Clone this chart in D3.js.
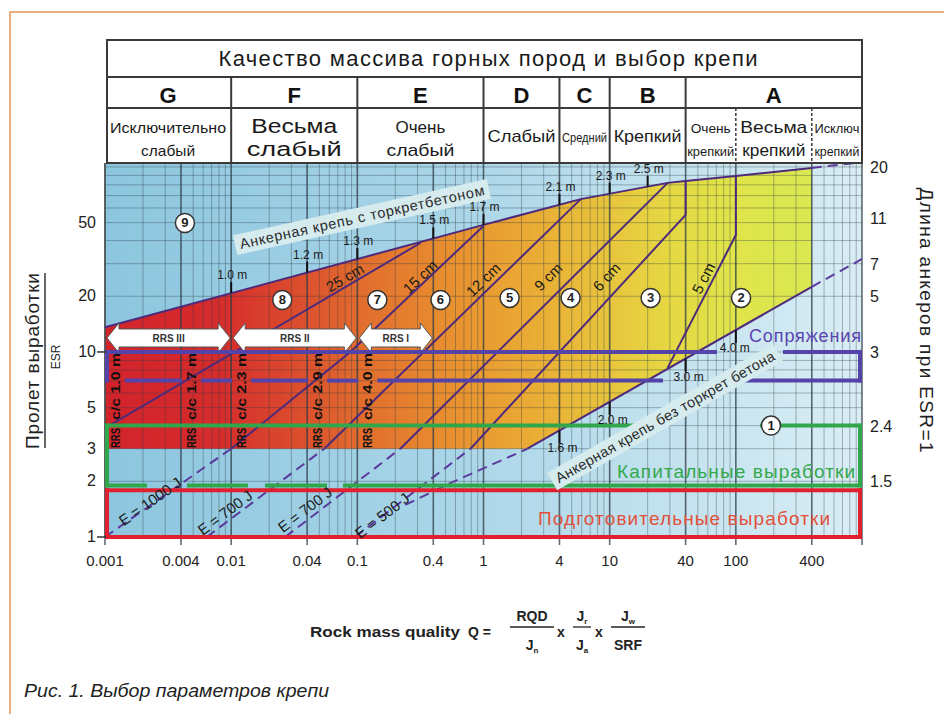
<!DOCTYPE html>
<html lang="ru">
<head>
  <meta charset="UTF-8">
  <title>Выбор параметров крепи</title>
  <script src="https://d3js.org/d3.v7.min.js"></script>
</head>
<body style="margin:0;background:#fff">

  <div id="chart"></div>

  <style>
    svg text { font-family: "Liberation Sans", Arial, sans-serif; }
  </style>

  <script type="text/javascript">

  // ---------- values ----------
  var qTicks = [0.001, 0.004, 0.01, 0.04, 0.1, 0.4, 1, 4, 10, 40, 100, 400];
  var qTickLabels = ["0.001", "0.004", "0.01", "0.04", "0.1", "0.4", "1", "4", "10", "40", "100", "400"];
  var spanTicks = [1, 2, 3, 5, 10, 20, 50];
  var boltTicks = [100, 53, 30, 20, 10, 4, 2];          // span/ESR where the right labels sit
  var boltTickLabels = ["20", "11", "7", "5", "3", "2.4", "1.5"];

  var rockClasses = ["G", "F", "E", "D", "C", "B", "A"];
  var classEdges = [0.001, 0.01, 0.1, 1, 4, 10, 40, 1000];
  var qualityNames = [["Исключительно", "слабый"], ["Весьма", "слабый"], ["Очень", "слабый"], ["Слабый"],
                      ["Средний"], ["Крепкий"], ["Очень", "крепкий"], ["Весьма", "крепкий"], ["Исключ", "крепкий"]];
  var qualityEdges = [0.001, 0.01, 0.1, 1, 4, 10, 40, 100, 400, 1000];

  // support boundaries, [Q, span/ESR]
  var shotcreteLimit = [[0.001, 13.6], [1, 48.6], [5.9, 67], [28.8, 82], [40, 84], [100, 89.4], [400, 98.8]];
  var shotcreteLimitExt = [[400, 98.8], [1000, 106]];
  var boltLimit = [[2.23, 3], [400, 22.5]];
  var boltLimitLow = [[0.24, 1.49], [0.55, 1.96], [2.23, 3]];
  var boltLimitHigh = [[400, 22.5], [1000, 31.8]];

  var thick25 = [[0.001, 3.88], [0.316, 38.8]];
  var thick15 = [[0.01, 3], [0.088, 10], [1, 48]];
  var thick12 = [[0.0547, 3], [5.9, 67]];
  var thick9 = [[0.219, 3], [28.8, 82]];
  var thick6 = [[0.788, 3], [40, 55], [40, 84]];
  var thick5 = [[28.8, 8.2], [100, 42.9], [100, 89.4]];

  var e1000 = [[0.001, 1], [0.01, 3]];
  var e700a = [[0.0064, 1], [0.0547, 3]];
  var e700b = [[0.0268, 1], [0.219, 3]];
  var e500 = [[0.096, 1], [0.788, 3]];

  var thickLabels = [["25 cm", 0.08, 25.1], ["15 cm", 0.316, 25.4], ["12 cm", 1.0, 24.5],
                     ["9 cm", 3.27, 25.4], ["6 cm", 9.5, 25.4], ["5 cm", 55.7, 25]];
  var energyLabels = [["E = 1000 J", 0.00228, 1.55], ["E = 700 J", 0.00896, 1.35],
                      ["E = 700 J", 0.0386, 1.40], ["E = 500 J", 0.158, 1.30]];

  var upperBolts = [[0.01, "1.0 m"], [0.04, "1.2 m"], [0.1, "1.3 m"], [0.4, "1.5 m"], [1, "1.7 m"],
                    [4, "2.1 m"], [10, "2.3 m"], [20, "2.5 m"]];
  var lowerBolts = [[4, "1.6 m"], [10, "2.0 m"], [40, "3.0 m"], [100, "4.0 m"]];

  var regionMarks = [["1", 190, 4], ["2", 110, 19.6], ["3", 21.1, 19.6], ["4", 4.9, 19.6], ["5", 1.61, 19.6],
                     ["6", 0.456, 19.1], ["7", 0.144, 19.1], ["8", 0.0254, 19.1], ["9", 0.0043, 49.8]];

  var rrsBands = [["RRS III", 0.001, 0.01], ["RRS II", 0.01, 0.1], ["RRS I", 0.1, 0.4]];
  var rrsQ = [0.001, 0.004, 0.01, 0.04, 0.1];
  var rrsText = ["c/c 1.0 m", "c/c 1.7 m", "c/c 2.3 m", "c/c 2.9 m", "c/c 4.0 m"];

  var tunnelBoxes = [["Сопряжения", 10, 7], ["Капитальные выработки", 4, 1.9], ["Подготовительные выработки", 1.79, 1]];

  // ---------- setup ----------
  var w = 944, h = 714;
  var svg = d3.select('#chart').append('svg').attr('width', w).attr('height', h);

  var x = d3.scaleLog().domain([0.001, 1000]).range([105, 862]);
  var y = d3.scaleLog().domain([1, 105]).range([537, 163]);
  var line = d3.line().x(d => x(d[0])).y(d => y(d[1]));

  var purple = '#4d2a7c';

  function yAt(pts, q) {
    for (var i = 0; i < pts.length - 1; i++) {
      var a = pts[i], b = pts[i + 1];
      if (a[0] === b[0]) continue;
      if (q >= Math.min(a[0], b[0]) && q <= Math.max(a[0], b[0])) {
        var t = Math.log(q / a[0]) / Math.log(b[0] / a[0]);
        return Math.exp(Math.log(a[1]) + t * Math.log(b[1] / a[1]));
      }
    }
    return null;
  }
  function angleAt(pts, q) {
    for (var i = 0; i < pts.length - 1; i++) {
      var a = pts[i], b = pts[i + 1];
      if (a[0] === b[0]) continue;
      if (q >= Math.min(a[0], b[0]) && q <= Math.max(a[0], b[0])) {
        if (a[0] > b[0]) { var c = a; a = b; b = c; }
        return Math.atan2(y(b[1]) - y(a[1]), x(b[0]) - x(a[0])) * 180 / Math.PI;
      }
    }
    return 0;
  }

  // frame of the page
  svg.append('rect').attr('x', 10).attr('y', 12).attr('width', 960).attr('height', 720)
    .attr('fill', 'none').attr('stroke', '#e29452').attr('stroke-width', 1.5);

  var defs = svg.append('defs');
  var bgGrad = defs.append('linearGradient').attr('id', 'bgGrad').attr('gradientUnits', 'userSpaceOnUse')
    .attr('x1', x(0.001)).attr('x2', x(1000)).attr('y1', 0).attr('y2', 0);
  [[0, '#8cc6de'], [0.45, '#a9d5e8'], [1, '#d9edf4']].forEach(s =>
    bgGrad.append('stop').attr('offset', s[0]).attr('stop-color', s[1]));

  var supGrad = defs.append('linearGradient').attr('id', 'supGrad').attr('gradientUnits', 'userSpaceOnUse')
    .attr('x1', x(0.001)).attr('x2', x(400)).attr('y1', 0).attr('y2', 0);
  [[0.001, '#d2232b'], [0.008, '#d52c2c'], [0.03, '#db4a2d'], [0.1, '#e16b2e'], [0.5, '#e88e2f'],
   [2, '#eaa834'], [8, '#e8c13b'], [30, '#e5d843'], [100, '#e0e44a'], [400, '#dae852']].forEach(s =>
    supGrad.append('stop').attr('offset', (x(s[0]) - x(0.001)) / (x(400) - x(0.001))).attr('stop-color', s[1]));

  // plot background
  svg.append('rect').attr('x', x(0.001)).attr('y', y(105))
    .attr('width', x(1000) - x(0.001)).attr('height', y(1) - y(105)).attr('fill', 'url(#bgGrad)');

  // coloured support area
  var area = shotcreteLimit.concat([[400, 22.5], boltLimit[0], [0.001, 3]]);
  svg.append('path').attr('d', line(area) + 'Z').attr('fill', 'url(#supGrad)');

  // grid
  var gridQ = [];
  for (var d = -3; d <= 2; d++) for (var m = 1; m <= 9; m++) gridQ.push([m * Math.pow(10, d), m === 1 || m === 4]);
  gridQ.push([1000, true]);
  var gridS = [];
  for (var e = 0; e <= 2; e++) for (var n = 1; n <= 9; n++) if (n * Math.pow(10, e) < 105) gridS.push(n * Math.pow(10, e));

  var grid = svg.append('g');
  grid.selectAll('line.h').data(gridS).enter().append('line')
    .attr('x1', x(0.001)).attr('x2', x(1000)).attr('y1', d => y(d)).attr('y2', d => y(d))
    .attr('stroke', '#2c3b46').attr('stroke-opacity', 0.45).attr('stroke-width', 0.8);
  grid.selectAll('line.v').data(gridQ).enter().append('line')
    .attr('x1', d => x(d[0])).attr('x2', d => x(d[0])).attr('y1', y(105)).attr('y2', d => d[1] ? 545 : y(1))
    .attr('stroke', '#2c3b46')
    .attr('stroke-opacity', d => d[1] ? 0.75 : 0.45)
    .attr('stroke-width', d => d[1] ? 1.6 : 0.8);

  // left axis line
  svg.append('line').attr('x1', x(0.001)).attr('x2', x(0.001)).attr('y1', y(105)).attr('y2', y(1))
    .attr('stroke', '#555').attr('stroke-width', 1.5);

  // support lines
  var solid = [thick25, thick15, thick12, thick9, thick6, thick5, shotcreteLimit, boltLimit];
  svg.append('g').selectAll('path').data(solid).enter().append('path')
    .attr('d', line).attr('fill', 'none').attr('stroke', purple).attr('stroke-width', 2);
  var dashed = [e1000, e700a, e700b, e500, boltLimitLow, boltLimitHigh, shotcreteLimitExt];
  svg.append('g').selectAll('path').data(dashed).enter().append('path')
    .attr('d', line).attr('fill', 'none').attr('stroke', '#5b3a9e').attr('stroke-width', 2)
    .attr('stroke-dasharray', '10,6');

  // RRS arrows
  var yArrow = y(11.9);
  rrsBands.forEach(function (b) {
    var x0 = x(b[1]) + 2, x1 = x(b[2]) - 1, hb = 9, hh = 15, hl = 12;
    var p = [[x0, yArrow], [x0 + hl, yArrow - hh], [x0 + hl, yArrow - hb], [x1 - hl, yArrow - hb], [x1 - hl, yArrow - hh],
             [x1, yArrow], [x1 - hl, yArrow + hh], [x1 - hl, yArrow + hb], [x0 + hl, yArrow + hb], [x0 + hl, yArrow + hh]];
    svg.append('path').attr('d', 'M' + p.join('L') + 'Z').attr('fill', '#fff')
      .attr('stroke', '#555').attr('stroke-width', 1);
    svg.append('text').attr('x', (x0 + x1) / 2).attr('y', yArrow + 4).attr('text-anchor', 'middle')
      .attr('font-size', 10).attr('font-weight', 'bold').attr('fill', '#333').text(b[0]);
  });

  // tunnel category boxes, with gaps where text crosses
  function hSeg(g, yy, xa, xb, gaps, color) {
    var pos = xa;
    gaps.concat([[xb, xb]]).forEach(function (gp) {
      g.append('line').attr('x1', pos).attr('x2', gp[0]).attr('y1', yy).attr('y2', yy)
        .attr('stroke', color).attr('stroke-width', 4);
      pos = gp[1];
    });
  }
  var boxColors = ['#5443a8', '#31a64a', '#e0202e'];
  var rrsGaps = rrsQ.map(q => [x(q) + 1, x(q) + 20]);
  var boxGaps = [[[[717, 783]], rrsGaps.concat([[663, 743]])],
                 [[[663, 760]], [[147, 187], [248, 265], [327, 343]]],
                 [[], []]];
  var boxes = svg.append('g');
  tunnelBoxes.forEach(function (b, i) {
    var yt = y(b[1]), yb = y(b[2]);
    hSeg(boxes, yt, 105, 862, boxGaps[i][0], boxColors[i]);
    hSeg(boxes, yb, 105, 862, boxGaps[i][1], boxColors[i]);
    [107, 860].forEach(xx => boxes.append('line').attr('x1', xx).attr('x2', xx)
      .attr('y1', yt - 2).attr('y2', yb + 2).attr('stroke', boxColors[i]).attr('stroke-width', 4));
  });
  svg.append('text').attr('x', 861).attr('y', 342).attr('text-anchor', 'end').attr('font-size', 18)
    .attr('fill', '#5a44b0').attr('textLength', 112).text(tunnelBoxes[0][0]);
  svg.append('text').attr('x', 855).attr('y', 478).attr('text-anchor', 'end').attr('font-size', 19)
    .attr('fill', '#34a84c').attr('textLength', 238).text(tunnelBoxes[1][0]);
  svg.append('text').attr('x', 830).attr('y', 525).attr('text-anchor', 'end').attr('font-size', 19)
    .attr('fill', '#e2503c').attr('textLength', 292).text(tunnelBoxes[2][0]);

  // RRS spacing columns
  rrsQ.forEach(function (q, i) {
    var xx = x(q) + 15;
    svg.append('text').attr('transform', 'translate(' + xx + ',448) rotate(-90)')
      .attr('font-size', 12).attr('font-weight', 'bold').attr('fill', '#111')
      .attr('textLength', 20).attr('lengthAdjust', 'spacingAndGlyphs').text('RRS');
    svg.append('text').attr('transform', 'translate(' + xx + ',420) rotate(-90)')
      .attr('font-size', 12).attr('font-weight', 'bold').attr('fill', '#111')
      .attr('textLength', 67).attr('lengthAdjust', 'spacingAndGlyphs').text(rrsText[i]);
  });

  // long labels on light bands
  function band(cx, cy, ang, len, txt) {
    var g = svg.append('g').attr('transform', 'translate(' + cx + ',' + cy + ') rotate(' + ang + ')');
    g.append('rect').attr('x', -len / 2 - 5).attr('y', -10).attr('width', len + 10).attr('height', 20)
      .attr('fill', '#d6ebee');
    g.append('text').attr('text-anchor', 'middle').attr('y', 5).attr('font-size', 14.5).attr('fill', '#2a2a2a')
      .attr('textLength', len).text(txt);
  }
  band(362, 217, -12.5, 250, 'Анкерная крепь с торкретбетоном');
  band(665, 417, -29.8, 250, 'Анкерная крепь без торкрет бетона');

  // thickness and energy labels
  thickLabels.forEach(function (t, i) {
    var ln = [thick25, thick15, thick12, thick9, thick6, thick5][i];
    svg.append('text').attr('transform', 'translate(' + x(t[1]) + ',' + y(t[2]) + ') rotate(' + angleAt(ln, t[1]) + ')')
      .attr('text-anchor', 'middle').attr('dy', 5).attr('font-size', 15).attr('fill', '#1a1a1a').text(t[0]);
  });
  energyLabels.forEach(function (t, i) {
    var ln = [e1000, e700a, e700b, e500][i];
    svg.append('text').attr('transform', 'translate(' + x(t[1]) + ',' + y(t[2]) + ') rotate(' + angleAt(ln, x.invert(x(t[1]) + 15)) + ')')
      .attr('text-anchor', 'middle').attr('dy', 5).attr('font-size', 15).attr('fill', '#1a1a1a').text(t[0]);
  });

  // bolt length marks
  upperBolts.forEach(function (b) {
    var yy = y(yAt(shotcreteLimit, b[0]));
    svg.append('line').attr('x1', x(b[0])).attr('x2', x(b[0])).attr('y1', yy).attr('y2', yy - 11)
      .attr('stroke', '#111').attr('stroke-width', 2);
    svg.append('text').attr('x', x(b[0]) + 1).attr('y', yy - 14).attr('text-anchor', 'middle')
      .attr('font-size', 12).attr('fill', '#1a1a1a').text(b[1]);
  });
  lowerBolts.forEach(function (b) {
    var yy = y(yAt(boltLimit, b[0]));
    svg.append('line').attr('x1', x(b[0])).attr('x2', x(b[0])).attr('y1', yy).attr('y2', yy + 13)
      .attr('stroke', '#111').attr('stroke-width', 2);
    svg.append('text').attr('x', x(b[0]) + (b[0] === 100 ? -1 : 3)).attr('y', yy + 22).attr('text-anchor', 'middle')
      .attr('font-size', 12).attr('fill', '#1a1a1a').text(b[1]);
  });

  // region numbers
  var marks = svg.append('g').selectAll('g').data(regionMarks).enter().append('g')
    .attr('transform', d => 'translate(' + x(d[1]) + ',' + y(d[2]) + ')');
  marks.append('circle').attr('r', 9.5).attr('fill', '#fff').attr('stroke', '#333').attr('stroke-width', 1.5);
  marks.append('text').attr('text-anchor', 'middle').attr('dy', 4.5).attr('font-size', 13)
    .attr('font-weight', 'bold').attr('fill', '#222').text(d => d[0]);

  // header table
  var hdr = svg.append('g').attr('stroke', '#3a3a3a');
  hdr.append('rect').attr('x', 107).attr('y', 40).attr('width', 755).attr('height', 123)
    .attr('fill', '#fff').attr('stroke-width', 2);
  [77, 108].forEach(yy => hdr.append('line').attr('x1', 107).attr('x2', 862).attr('y1', yy).attr('y2', yy).attr('stroke-width', 2));
  classEdges.slice(1, -1).forEach(q => hdr.append('line').attr('x1', x(q)).attr('x2', x(q))
    .attr('y1', 77).attr('y2', 163).attr('stroke-width', 2));
  [100, 400].forEach(q => hdr.append('line').attr('x1', x(q)).attr('x2', x(q)).attr('y1', 108).attr('y2', 163)
    .attr('stroke-width', 1.5).attr('stroke-dasharray', '3,2'));

  svg.append('text').attr('x', 488).attr('y', 66).attr('text-anchor', 'middle').attr('font-size', 22)
    .attr('fill', '#1a1a1a').attr('textLength', 539).text('Качество массива горных пород и выбор крепи');
  rockClasses.forEach(function (c, i) {
    svg.append('text').attr('x', (x(classEdges[i]) + x(classEdges[i + 1])) / 2).attr('y', 103)
      .attr('text-anchor', 'middle').attr('font-size', 22).attr('font-weight', 'bold').attr('fill', '#111').text(c);
  });
  var nameStyle = [[15, [116, 54]], [20, [86, 95]], [17, [50, 68]], [17, [68]], [13, [45]], [17, [68]],
                   [12, [40, 47]], [17, [67, 63]], [12, [45, 45]]];
  qualityNames.forEach(function (nm, i) {
    var cx = (x(qualityEdges[i]) + x(qualityEdges[i + 1])) / 2;
    var ys = nm.length === 1 ? [142] : [133, 156];
    nm.forEach(function (s, j) {
      svg.append('text').attr('x', cx).attr('y', ys[j]).attr('text-anchor', 'middle')
        .attr('font-size', nameStyle[i][0]).attr('fill', '#1a1a1a')
        .attr('textLength', nameStyle[i][1][j]).attr('lengthAdjust', 'spacingAndGlyphs').text(s);
    });
  });

  // axes
  svg.selectAll('text.xt').data(qTicks).enter().append('text')
    .attr('x', d => x(d)).attr('y', 566).attr('text-anchor', 'middle').attr('font-size', 15)
    .attr('fill', '#222').text((d, i) => qTickLabels[i]);
  svg.selectAll('text.yt').data(spanTicks).enter().append('text')
    .attr('x', 96).attr('y', d => y(d) + 5).attr('text-anchor', 'end').attr('font-size', 16)
    .attr('fill', '#222').text(d => d);
  [1, 10].forEach(s => svg.append('line').attr('x1', 97).attr('x2', 106).attr('y1', y(s)).attr('y2', y(s))
    .attr('stroke', '#333').attr('stroke-width', 1.5));
  svg.selectAll('text.rt').data(boltTicks).enter().append('text')
    .attr('x', 870).attr('y', d => y(d) + 6).attr('font-size', 16).attr('fill', '#222')
    .text((d, i) => boltTickLabels[i]);

  svg.append('text').attr('transform', 'translate(39,361) rotate(-90)').attr('text-anchor', 'middle')
    .attr('font-size', 19).attr('fill', '#222').attr('textLength', 176).text('Пролет выработки');
  svg.append('line').attr('x1', 45).attr('x2', 45).attr('y1', 273).attr('y2', 448).attr('stroke', '#333').attr('stroke-width', 1.5);
  svg.append('text').attr('transform', 'translate(60,357) rotate(-90)').attr('text-anchor', 'middle')
    .attr('font-size', 12).attr('fill', '#222').text('ESR');
  svg.append('text').attr('transform', 'translate(920,320) rotate(90)').attr('text-anchor', 'middle')
    .attr('font-size', 19).attr('fill', '#222').attr('textLength', 265).text('Длина анкеров при ESR=1');

  // formula
  var f = svg.append('g').attr('font-weight', 'bold').attr('fill', '#222');
  f.append('text').attr('x', 310).attr('y', 637).attr('font-size', 14).attr('textLength', 150)
    .attr('lengthAdjust', 'spacingAndGlyphs').text('Rock mass quality');
  f.append('text').attr('x', 468).attr('y', 637).attr('font-size', 14).text('Q =');
  function frac(cx, half, num, den) {
    f.append('line').attr('x1', cx - half).attr('x2', cx + half).attr('y1', 627).attr('y2', 627)
      .attr('stroke', '#222').attr('stroke-width', 1.3);
    [[num, 621], [den, 650]].forEach(function (p) {
      var t = f.append('text').attr('x', cx).attr('y', p[1]).attr('text-anchor', 'middle').attr('font-size', 14);
      t.append('tspan').text(p[0][0]);
      if (p[0][1]) t.append('tspan').attr('font-size', 8).attr('dy', 3).text(p[0][1]);
    });
  }
  frac(532, 22, ['RQD'], ['J', 'n']);
  f.append('text').attr('x', 561).attr('y', 637).attr('text-anchor', 'middle').attr('font-size', 14).text('x');
  frac(582, 9, ['J', 'r'], ['J', 'a']);
  f.append('text').attr('x', 599).attr('y', 637).attr('text-anchor', 'middle').attr('font-size', 14).text('x');
  frac(628, 17, ['J', 'w'], ['SRF']);

  // caption
  svg.append('text').attr('x', 24).attr('y', 697).attr('font-family', '"Noto Sans", sans-serif')
    .attr('font-style', 'italic').attr('font-size', 18).attr('fill', '#222').attr('textLength', 305)
    .attr('lengthAdjust', 'spacingAndGlyphs').text('Рис. 1. Выбор параметров  крепи');

  </script>
</body>
</html>
